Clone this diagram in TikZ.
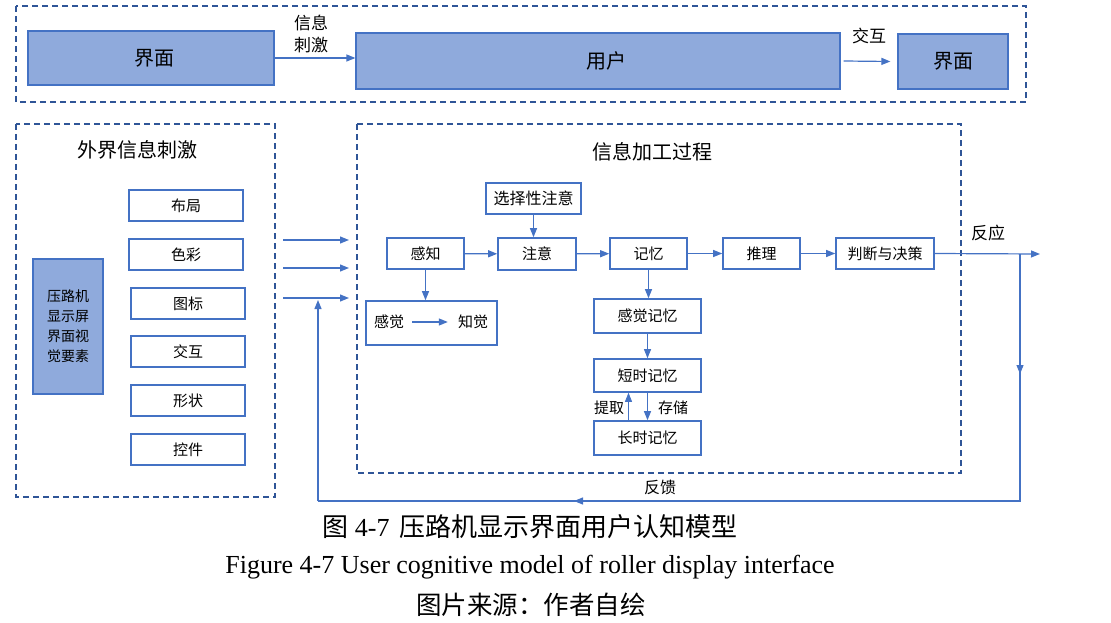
\documentclass[tikz,border=0pt]{standalone}
\usepackage{fontspec}
\setmainfont{Liberation Serif}
\newfontfamily\cjk{Noto Sans CJK SC}
\usetikzlibrary{arrows.meta}
\definecolor{boxfill}{HTML}{8FAADC}
\definecolor{boxedge}{HTML}{4472C4}
\definecolor{dashblue}{HTML}{2F5597}
\tikzset{
  dbox/.style={draw=dashblue, dash pattern=on 6pt off 4pt, line width=1.5pt},
  fillbox/.style={draw=boxedge, fill=boxfill, line width=1.2pt, inner sep=0pt, font=\cjk\fontsize{20pt}{24pt}\selectfont},
  wbox/.style={draw=boxedge, fill=white, line width=1.6pt, inner sep=0pt, font=\cjk\fontsize{15pt}{18pt}\selectfont},
  ln/.style={draw=boxedge, line width=1.2pt},
  arr/.style={draw=boxedge, line width=1.2pt, -{Triangle[length=9pt,width=7pt]}},
  lbl/.style={font=\cjk\fontsize{16pt}{19pt}\selectfont, inner sep=0pt},
  ttl/.style={font=\cjk\fontsize{20pt}{24pt}\selectfont, inner sep=0pt}
}
\begin{document}
\begin{tikzpicture}[x=1pt,y=-1pt]
\useasboundingbox (0,0) rectangle (1111,623);
% top row
\draw[dbox] (16,6) rectangle (1026,102);
\node[fillbox, minimum width=246pt, minimum height=54pt] (ifL) at (151,58) {\hspace*{6pt}界面};
\node[fillbox, minimum width=484pt, minimum height=56pt] (user) at (598,61) {\hspace*{16pt}用户};
\node[fillbox, minimum width=110pt, minimum height=55pt] (ifR) at (953,61.5) {界面};
\draw[arr] (ifL.east) -- (ifL.east -| user.west);
\node[lbl, font=\cjk\fontsize{17pt}{22pt}\selectfont, align=center] (xxcj) at (311,34) {信息\\刺激};
\draw[arr] ([xshift=3pt]user.east) -- ([xshift=-7pt]ifR.west);
\node[lbl, font=\cjk\fontsize{17pt}{20pt}\selectfont] (jh) at (869,36) {交互};
% left box
\draw[dbox] (16,124) rectangle (275,497);
\node[ttl] (wj) at (137,150) {外界信息刺激};
\node[fillbox, minimum width=70pt, minimum height=135pt, align=center, font=\cjk\fontsize{14pt}{20pt}\selectfont] (lb) at (68,326.5) {压路机\\显示屏\\界面视\\觉要素};
\node[wbox, minimum width=114pt, minimum height=31pt] (i1) at (186,205.5) {布局};
\node[wbox, minimum width=114pt, minimum height=31pt] (i2) at (186,254.5) {色彩};
\node[wbox, minimum width=114pt, minimum height=31pt] (i3) at (188,303.5) {图标};
\node[wbox, minimum width=114pt, minimum height=31pt] (i4) at (188,351.5) {交互};
\node[wbox, minimum width=114pt, minimum height=31pt] (i5) at (188,400.5) {形状};
\node[wbox, minimum width=114pt, minimum height=31pt] (i6) at (188,449.5) {控件};
% arrows into processing
\coordinate (a1s) at (283,240); \coordinate (a1e) at (349,240);
\coordinate (a2s) at (283,268); \coordinate (a2e) at (349,268);
\coordinate (a3s) at (283,298); \coordinate (a3e) at (349,298);
\draw[arr] (a1s) -- (a1e);
\draw[arr] (a2s) -- (a2e);
\draw[arr] (a3s) -- (a3e);
% processing box
\draw[dbox] (357,124) rectangle (961,473);
\node[ttl] (xxjg) at (652,152) {信息加工过程};
\node[wbox, minimum width=95pt, minimum height=31pt, font=\cjk\fontsize{16pt}{19pt}\selectfont] (sel) at (533.5,198.5) {选择性注意};
\node[wbox, minimum width=77pt, minimum height=31pt] (perc) at (425.5,253.5) {感知};
\node[wbox, minimum width=78pt, minimum height=32pt] (att) at (537,254) {注意};
\node[wbox, minimum width=77pt, minimum height=31pt] (mem) at (648.5,253.5) {记忆};
\node[wbox, minimum width=77pt, minimum height=31pt] (rea) at (761.5,253.5) {推理};
\node[wbox, minimum width=98pt, minimum height=31pt] (dec) at (885,253.5) {判断与决策};
\node[wbox, minimum width=131pt, minimum height=44pt] (sens) at (431.5,323) {};
\node[lbl, font=\cjk\fontsize{15pt}{18pt}\selectfont] (gj) at (389,322) {感觉};
\node[lbl, font=\cjk\fontsize{15pt}{18pt}\selectfont] (zj) at (473,322) {知觉};
\draw[arr] ([xshift=8pt]gj.east) -- ([xshift=-10pt]zj.west);
\node[wbox, minimum width=107pt, minimum height=34pt] (smem) at (647.5,316) {感觉记忆};
\node[wbox, minimum width=107pt, minimum height=33pt] (stm) at (647.5,375.5) {短时记忆};
\node[wbox, minimum width=107pt, minimum height=34pt] (ltm) at (647.5,438) {长时记忆};
\draw[arr] (sel.south) -- (sel.south |- att.north);
\draw[arr] (perc) -- (att);
\draw[arr] (att) -- (mem);
\draw[arr] (mem) -- (rea);
\draw[arr] (rea) -- (dec);
\draw[arr] (perc.south) -- (perc.south |- sens.north);
\draw[arr] (mem.south) -- (mem.south |- smem.north);
\draw[arr, line width=0.9pt] (smem.south) -- (stm.north);
\draw[arr] (stm.south) -- (ltm.north);
\draw[arr, line width=0.7pt] ([xshift=-19pt]ltm.north) -- ([xshift=-19pt]stm.south);
\node[lbl, font=\cjk\fontsize{15pt}{18pt}\selectfont] (tq) at (609,408) {提取};
\node[lbl, font=\cjk\fontsize{15pt}{18pt}\selectfont] (cc) at (673,408) {存储};
% output and feedback
\coordinate (out) at (1040,254);
\coordinate (fb1) at (1020,254);
\coordinate (fbm) at (1020,374);
\coordinate (fb2) at (1020,501);
\coordinate (fbm2) at (574,501);
\coordinate (fb3) at (318,501);
\coordinate (fb4) at (318,300);
\draw[arr] (dec.east) -- (out);
\draw[ln] (fb1) -- (fb2) -- (fb3);
\draw[arr] (fb1) -- (fbm);
\draw[arr] (fb2) -- (fbm2);
\draw[arr] (fb3) -- (fb4);
\node[lbl, font=\cjk\fontsize{17pt}{20pt}\selectfont] (fy) at (988,233) {反应};
\node[lbl] (fk) at (660,487) {反馈};
% captions
\node[inner sep=0pt, font=\fontsize{26pt}{30pt}\selectfont] (cap1) at (530,527) {{\cjk 图} 4-7\hspace{10pt}{\cjk 压路机显示界面用户认知模型}};
\node[inner sep=0pt, font=\fontsize{26pt}{30pt}\selectfont] (cap2) at (530,567) {Figure 4-7 User cognitive model of roller display interface};
\node[inner sep=0pt, font=\cjk\fontsize{25.5pt}{30pt}\selectfont] (cap3) at (531,605) {图片来源：作者自绘};
\end{tikzpicture}
\end{document}
